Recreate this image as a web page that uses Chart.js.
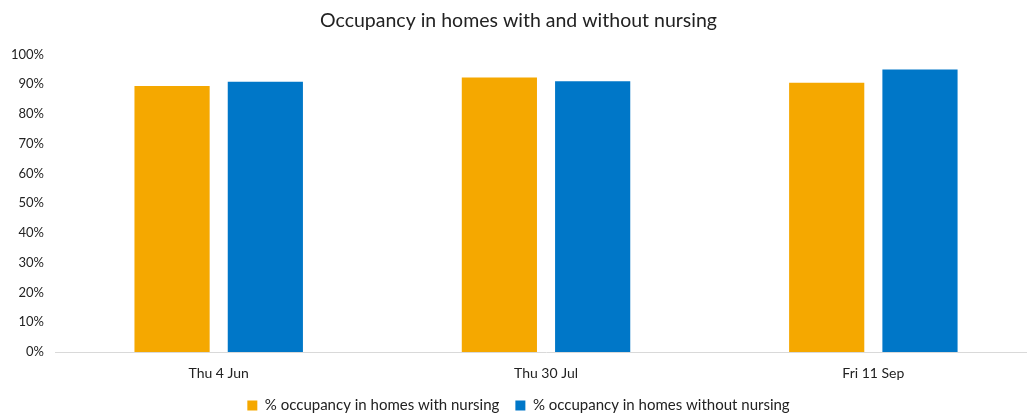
<!DOCTYPE html>
<html lang="en">
<head>
<meta charset="UTF-8">
<title>Occupancy in homes with and without nursing</title>
<script src="https://cdn.jsdelivr.net/npm/chart.js"></script>
<style>
  html, body { margin: 0; padding: 0; background: #fff; overflow: hidden; }
  #wrap { width: 1027px; height: 414px; overflow: hidden; }
</style>
</head>
<body>
<div id="wrap"><canvas id="occChart" width="1040" height="423"></canvas></div>
<script>
    // chart data
    var categories = ["Thu 4 Jun", "Thu 30 Jul", "Fri 11 Sep"];
    var withNursing = [89.4, 92.2, 90.5];
    var withoutNursing = [90.8, 91.0, 94.9];
    var seriesNames = ["% occupancy in homes with nursing", "% occupancy in homes without nursing"];

    var fontFamily = "Lato, 'Open Sans', sans-serif";

    new Chart(document.getElementById("occChart"), {
        type: "bar",
        data: {
            labels: categories,
            datasets: [
                {
                    label: seriesNames[0],
                    data: withNursing,
                    backgroundColor: "#F5A800",
                    categoryPercentage: 0.57,
                    barPercentage: 0.806
                },
                {
                    label: seriesNames[1],
                    data: withoutNursing,
                    backgroundColor: "#0077C8",
                    categoryPercentage: 0.57,
                    barPercentage: 0.806
                }
            ]
        },
        options: {
            responsive: false,
            animation: false,
            layout: { padding: { left: 0, right: 3, top: 0, bottom: 0 } },
            scales: {
                x: {
                    grid: { display: false, drawTicks: false },
                    border: { color: "#d9d9d9", width: 1 },
                    ticks: { color: "#222", font: { family: fontFamily, size: 14, lineHeight: 1 }, padding: 14 },
                    afterFit: function (axis) { axis.height = 30; } // padding + one line of text
                },
                y: {
                    min: 0,
                    max: 100,
                    grid: { display: false, drawTicks: false },
                    border: { display: false },
                    ticks: {
                        stepSize: 10,
                        color: "#222",
                        padding: 11,
                        font: { family: fontFamily, size: 13 },
                        callback: function (v) { return v + "%"; }
                    }
                }
            },
            plugins: {
                title: {
                    display: true,
                    text: "Occupancy in homes with and without nursing",
                    color: "#222",
                    font: { family: fontFamily, size: 19.5, weight: "normal" },
                    padding: { top: 9, bottom: 22 }
                },
                legend: {
                    position: "bottom",
                    labels: {
                        color: "#222",
                        font: { family: fontFamily, size: 15 },
                        boxWidth: 10,
                        boxHeight: 10,
                        padding: 16
                    }
                },
                tooltip: { enabled: false }
            }
        }
    });
</script>
</body>
</html>
